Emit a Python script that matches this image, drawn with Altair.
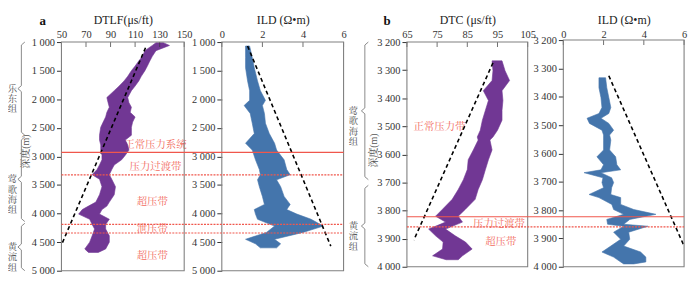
import altair as alt
import pandas as pd

FONT = "Liberation Serif, Noto Serif CJK SC, Noto Sans CJK SC, serif"
GREY = "#808080"
DARK = "#333333"
RED = "#f0574c"
RED_TXT = "#f26b5e"
PURPLE = "#6a2d8f"
BLUE = "#3b6ea8"
FMT = "replace(format(datum.value, ','), ',', ' ')"

# ---------------- panel a : DTLF ----------------
a_depth = [1010, 1060, 1150, 1250, 1330, 1420, 1500, 1600, 1680, 1770, 1850, 1970, 2060, 2140,
           2230, 2310, 2400, 2490, 2630, 2715, 2800, 2890, 2980, 3060, 3150, 3230, 3320, 3400,
           3530, 3670, 3800, 3870, 3930, 4010, 4100, 4190, 4270, 4390, 4500, 4620, 4680]
a_dtlf_lo = [127, 124, 118, 116, 113, 110, 107, 104, 101, 97, 93, 87, 88, 89,
             87, 86, 84, 82, 81, 81, 82, 82, 83, 83, 81, 79, 75, 81,
             83, 81, 78, 72, 67, 64, 73, 75, 77, 75, 73, 69, 72]
a_dtlf_hi = [133, 138, 127, 124, 122, 120, 118, 115, 113, 110, 107, 104, 105, 107,
             106, 110, 108, 107, 107, 102, 104, 105, 102, 99, 93, 91, 89, 91,
             94, 93, 89, 87, 83, 81, 89, 86, 86, 89, 89, 86, 80]

# ---------------- panel a : ILD ----------------
a_ild_depth = [1070, 1270, 1450, 1680, 1850, 2020, 2110, 2250, 2420, 2600, 2770, 2890, 3060, 3230,
               3320, 3410, 3530, 3700, 3840, 3930, 4010, 4100, 4220, 4330, 4450, 4530, 4600]
a_ild_lo = [1.17, 1.17, 1.17, 1.27, 1.37, 1.37, 1.1, 1.4, 1.5, 1.6, 1.17, 1.5, 1.66, 1.85,
            1.9, 1.76, 1.85, 2.0, 2.1, 1.6, 1.66, 1.76, 2.6, 2.2, 1.17, 1.66, 1.9]
a_ild_hi = [1.37, 1.5, 1.6, 1.76, 1.9, 2.15, 2.0, 2.1, 2.15, 2.34, 2.6, 2.7, 3.07, 3.2,
            3.37, 2.7, 2.9, 3.07, 3.37, 3.2, 3.7, 4.4, 5.0, 4.0, 2.6, 2.9, 2.7]

# ---------------- panel b : DTC ----------------
b_depth = [3267, 3302, 3337, 3373, 3408, 3443, 3478, 3514, 3538, 3549, 3584, 3619, 3654, 3690,
           3725, 3760, 3795, 3820, 3841, 3866, 3890, 3912, 3937, 3961, 3975]
b_dtc_lo = [93.2, 93.5, 93.2, 90.3, 92, 91, 90, 89.3, 88.3, 88.6, 87, 85.3, 85, 83.7,
            82, 80, 76.8, 74.5, 77.8, 72.2, 74.5, 77, 76.8, 73.5, 78]
b_dtc_hi = [96.5, 97.5, 99.0, 96.5, 96.8, 96.5, 96.5, 95, 93.5, 92.5, 93.2, 92, 91, 90,
            88.6, 87.6, 84.4, 82, 83.4, 77.8, 81, 84.4, 86.6, 83.4, 82]

# ---------------- panel b : ILD ----------------
b_ild_depth = [3333, 3368, 3403, 3438, 3459, 3476, 3494, 3518, 3535, 3553, 3588, 3612, 3640, 3658,
               3668, 3686, 3703, 3721, 3745, 3756, 3780, 3798, 3815, 3833, 3850, 3857, 3878, 3903,
               3927, 3948, 3966, 3983, 3990]
b_ild_lo = [1.77, 1.77, 1.87, 1.92, 1.77, 1.18, 1.3, 1.92, 2.0, 2.0, 2.0, 1.67, 2.0, 1.87,
            1.03, 1.97, 1.92, 2.0, 1.28, 1.77, 2.41, 2.5, 3.0, 2.16, 2.2, 3.0, 2.5, 2.85,
            2.36, 1.92, 2.5, 2.85, 3.0]
b_ild_hi = [2.1, 2.16, 2.26, 2.36, 2.26, 1.87, 2.26, 2.5, 2.3, 2.36, 2.3, 2.6, 2.66, 2.85,
            1.87, 2.4, 2.5, 2.4, 2.36, 2.85, 2.85, 3.5, 4.6, 3.3, 3.0, 4.2, 3.25, 3.3,
            3.0, 3.84, 4.1, 4.1, 3.5]

# trend lines (value, depth)
a_dtlf_trend = ([118.5, 50], [1100, 4550])
a_ild_trend = ([1.27, 5.37], [1070, 4570])
b_dtc_trend = ([93.5, 67.3], [3274, 3905])
b_ild_trend = ([2.26, 6.0], [3326, 3927])

# pressure boundaries
a_solid = [2930]
a_dotted = [3325, 4190, 4340]
b_solid = [3822]
b_dotted = [3858]

# zone labels
a_zone_text = ["正常压力系统", "压力过渡带", "超压带", "泄压带", "超压带"]
a_zone_x = [126.6, 126.6, 124, 124, 124]
a_zone_depth = [2800, 3180, 3805, 4273, 4740]
b_zone_text = ["正常压力带", "压力过渡带", "超压带"]
b_zone_x = [75.8, 95.5, 96.1]
b_zone_depth = [3503, 3848, 3912]

# formations
a_form = ["乐东组", "莺歌海组", "黄流组"]
a_form_top = [1000, 2660, 4170]
a_form_bot = [2630, 4140, 5000]
b_form = ["莺歌海组", "黄流组"]
b_form_top = [3200, 3710]
b_form_bot = [3690, 4000]

# axes
a_dtlf_ticks = [50, 70, 90, 110, 130, 150]
ild_ticks = [0, 2, 4, 6]
b_dtc_ticks = [65, 75, 85, 95, 105]
a_depth_ticks = [1000, 1500, 2000, 2500, 3000, 3500, 4000, 4500, 5000]
b_depth_ticks = [3200, 3300, 3400, 3500, 3600, 3700, 3800, 3900, 4000]


def yscale(ydom, yrng):
    return alt.Scale(domain=ydom, range=yrng, nice=False, zero=False)


def panel(xdom, xrng, ydom, yrng, xticks, yticks, xtitle, yoffset, depth, lo, hi, color,
          trend, ytitle=None, ytitle_xy=None, zones=None):
    def xs():
        return alt.Scale(domain=xdom, range=xrng, nice=False, zero=False)

    def ys():
        return yscale(ydom, yrng)

    layers = []
    if zones is not None:
        zdf = pd.DataFrame({"label": zones[0], "x": zones[1], "depth": zones[2]})
        layers.append(alt.Chart(zdf).mark_text(font=FONT, fontSize=10.5).encode(
            x=alt.X("x:Q", scale=xs(), axis=None),
            y=alt.Y("depth:Q", scale=ys(), axis=None),
            text="label:N", color=alt.value(RED_TXT)))
    cdf = pd.DataFrame({"depth": depth, "lo": lo, "hi": hi})
    layers.append(alt.Chart(cdf).mark_area(orient="horizontal", opacity=0.95, strokeWidth=0.6).encode(
        x=alt.X("lo:Q", scale=xs(), axis=None),
        x2="hi:Q",
        y=alt.Y("depth:Q", scale=ys(), axis=None),
        fill=alt.value(color), stroke=alt.value(color)))
    tdf = pd.DataFrame({"v": trend[0], "depth": trend[1]})
    layers.append(alt.Chart(tdf).mark_line(strokeDash=[4, 3], strokeWidth=1.6).encode(
        x=alt.X("v:Q", scale=xs(), axis=None),
        y=alt.Y("depth:Q", scale=ys(), axis=None),
        order="depth:Q", stroke=alt.value("black")))
    layers.append(alt.Chart(pd.DataFrame({"t": xticks, "d": [ydom[0]] * len(xticks)})).mark_tick(
        orient="vertical", size=5, thickness=1, yOffset=2.5).encode(
        x=alt.X("t:Q", scale=xs(), axis=None),
        y=alt.Y("d:Q", scale=ys(), axis=None), color=alt.value(DARK)))
    yaxis_kw = dict(orient="left", offset=yoffset, values=yticks, labelExpr=FMT, tickSize=5,
                    tickColor=DARK, domain=False, grid=False, labelPadding=2, labelFontSize=10.5,
                    labelFont=FONT, labelColor=DARK, labelOverlap=False)
    if ytitle is not None:
        yaxis_kw.update(title=ytitle, titleX=ytitle_xy[0], titleY=ytitle_xy[1],
                        titleFont=FONT, titleFontSize=10, titleFontWeight="normal",
                        titleColor="#555555", titleAngle=270, titleBaseline="bottom")
    else:
        yaxis_kw.update(title=None)
    fdf = pd.DataFrame({"x0": [xdom[0]], "x1": [xdom[1]], "y0": [ydom[0]], "y1": [ydom[1]]})
    layers.append(alt.Chart(fdf).mark_rect(fillOpacity=0, strokeWidth=1.1).encode(
        x=alt.X("x0:Q", scale=xs(), axis=alt.Axis(
            orient="top", values=xticks, title=xtitle, ticks=False, domain=False, grid=False,
            labelPadding=3, titlePadding=3, labelFontSize=10.5, titleFontSize=12,
            titleFontWeight="normal", labelFont=FONT, titleFont=FONT, labelColor=DARK,
            titleColor="#222222", labelFlush=False, labelOverlap=False)),
        x2="x1:Q",
        y=alt.Y("y0:Q", scale=ys(), axis=alt.Axis(**yaxis_kw)),
        y2="y1:Q", stroke=alt.value(GREY)))
    return layers


def boundary_rules(ydom, yrng, solid, dotted, span, tag):
    ys = yscale(ydom, yrng)
    out = []
    out.append(alt.Chart(pd.DataFrame({tag + "_dot": dotted})).mark_rule(
        strokeWidth=1.2, strokeDash=[2, 1.2], color=RED).encode(
        x=alt.value(span[0]), x2=alt.value(span[1]),
        y=alt.Y(tag + "_dot:Q", scale=ys, axis=None)))
    out.append(alt.Chart(pd.DataFrame({tag + "_sol": solid})).mark_rule(
        strokeWidth=1.1, color=RED).encode(
        x=alt.value(span[0]), x2=alt.value(span[1]),
        y=alt.Y(tag + "_sol:Q", scale=ys, axis=None)))
    return out


def deco(ydom, yrng, brace_rng, label_x, names, tops, bots, letter, letter_xy):
    ys = yscale(ydom, yrng)
    bs = alt.Scale(domain=[0, 1], range=brace_rng, nice=False, zero=False)
    c = (ydom[1] - ydom[0]) / (yrng[1] - yrng[0]) * 3.0
    rows = []
    for g, (a, b) in enumerate(zip(tops, bots)):
        m = (a + b) / 2
        pts = [(1, a), (0.5, a + c), (0.5, m - c), (0, m), (0.5, m + c), (0.5, b - c), (1, b)]
        for i, (bx, d) in enumerate(pts):
            rows.append({"g": g, "i": i, "bx": bx, "depth": d})
    bdf = pd.DataFrame(rows)
    braces = alt.Chart(bdf).mark_line(strokeWidth=1).encode(
        x=alt.X("bx:Q", scale=bs, axis=None),
        y=alt.Y("depth:Q", scale=ys, axis=None),
        detail="g:N", order="i:Q", stroke=alt.value("#8a8a8a"))
    ldf = pd.DataFrame({"name": ["\n".join(list(n)) for n in names],
                        "mid": [(a + b) / 2 for a, b in zip(tops, bots)]})
    labels = alt.Chart(ldf).mark_text(font=FONT, fontSize=9.5,
                                      lineBreak="\n", lineHeight=10.5).encode(
        x=alt.value(label_x),
        y=alt.Y("mid:Q", scale=yscale(ydom, yrng), axis=None),
        text="name:N", color=alt.value("#555555"))
    let = alt.Chart(pd.DataFrame({"t": [letter]})).mark_text(
        font=FONT, fontSize=13, fontWeight="bold").encode(
        x=alt.value(letter_xy[0]), y=alt.value(letter_xy[1]), text="t:N",
        color=alt.value("#111111"))
    return [braces, labels, let]


layers = []
layers += panel([50, 150], [0, 124], [1000, 5000], [0, 231], a_dtlf_ticks, a_depth_ticks,
                "DTLF(μs/ft)", 0, a_depth, a_dtlf_lo, a_dtlf_hi, PURPLE, a_dtlf_trend,
                ytitle="深度(m)", ytitle_xy=[-31, 110],
                zones=(a_zone_text, a_zone_x, a_zone_depth))
layers += panel([0, 6], [162, 285], [1000, 5000], [0, 231], ild_ticks, a_depth_ticks,
                "ILD (Ω•m)", -162, a_ild_depth, a_ild_lo, a_ild_hi, BLUE, a_ild_trend)
layers += panel([65, 105], [349, 471], [3200, 4000], [0, 227], b_dtc_ticks, b_depth_ticks,
                "DTC (μs/ft)", -349, b_depth, b_dtc_lo, b_dtc_hi, PURPLE, b_dtc_trend,
                ytitle="深度(m)", ytitle_xy=[-29, 109],
                zones=(b_zone_text, b_zone_x, b_zone_depth))
layers += panel([0, 6], [507, 629], [3200, 4000], [-2, 227], ild_ticks, b_depth_ticks,
                "ILD (Ω•m)", -507, b_ild_depth, b_ild_lo, b_ild_hi, BLUE, b_ild_trend)
layers += boundary_rules([1000, 5000], [0, 231], a_solid, a_dotted, [0, 285], "ra")
layers += boundary_rules([3200, 4000], [0, 227], b_solid, b_dotted, [349, 629], "rb")
layers += deco([1000, 5000], [0, 231], [-44, -37], -49.5, a_form, a_form_top, a_form_bot, "a", [-19, -21])
layers += deco([3200, 4000], [0, 227], [303, 310], 295, b_form, b_form_top, b_form_bot, "b", [329, -21])

chart = alt.layer(*layers).resolve_scale(
    x="independent", y="independent"
).properties(
    width=629, height=231,
    autosize=alt.AutoSizeParams(type="none"),
    padding={"left": 54, "top": 33, "right": 8, "bottom": 10},
).configure_view(stroke=None)

chart.save("out.html", embed_options={"renderer": "svg", "actions": False})
